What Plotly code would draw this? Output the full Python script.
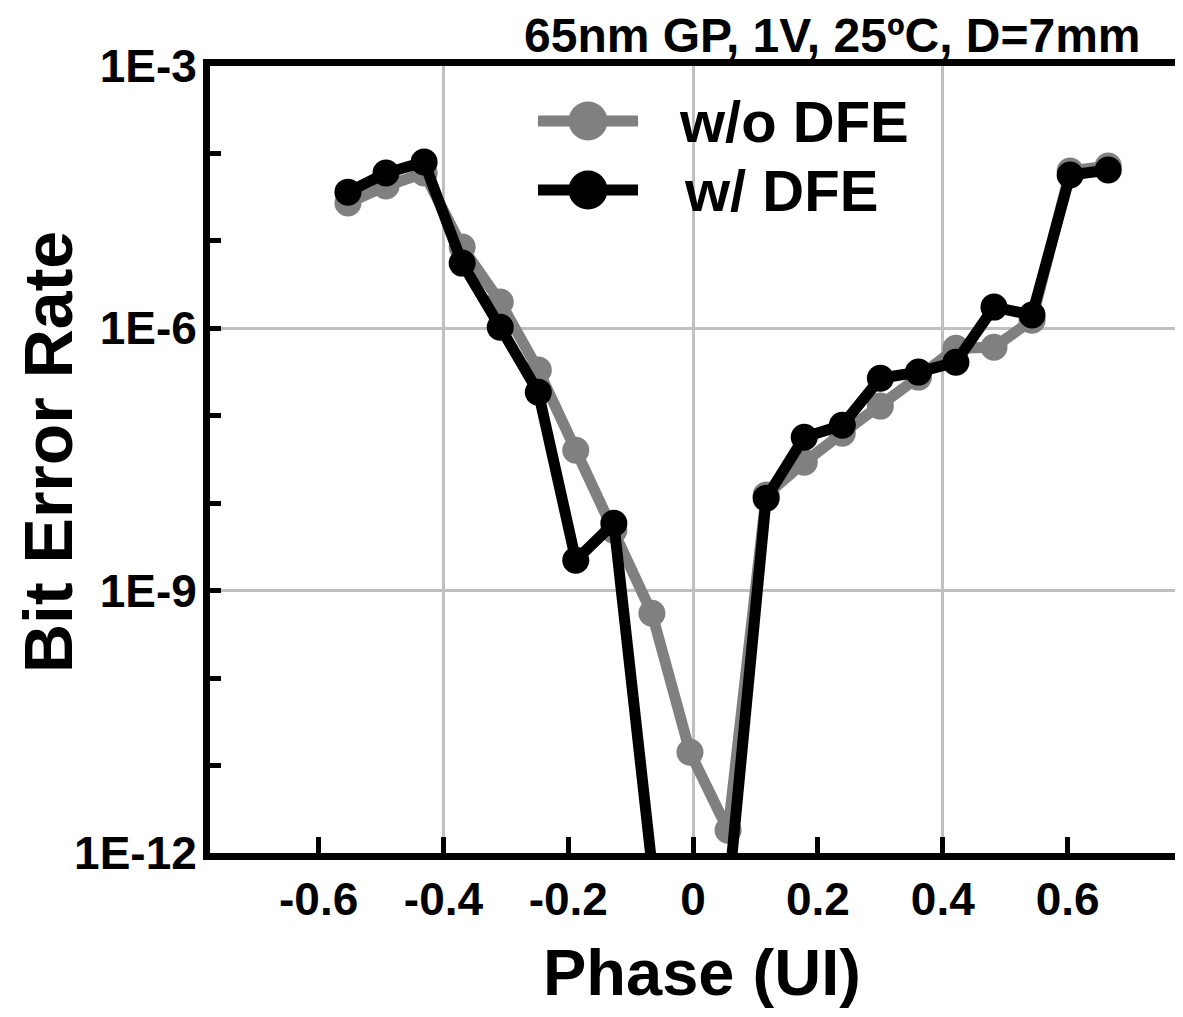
import plotly.graph_objects as go

# ---- data ----
phase = [-0.553, -0.492, -0.431, -0.370, -0.309, -0.248, -0.188, -0.127, -0.066, -0.005,
         0.056, 0.117, 0.178, 0.239, 0.300, 0.361, 0.421, 0.482, 0.543, 0.604, 0.665]

ber_wo_dfe = [2.71e-5, 4.24e-5, 5.97e-5, 8.49e-6, 2.0e-6, 3.33e-7, 4.04e-8, 4.91e-9, 5.51e-10, 1.42e-11,
              1.82e-12, 1.24e-8, 2.94e-8, 6.32e-8, 1.29e-7, 2.77e-7, 5.93e-7, 6.08e-7, 1.24e-6, 6.30e-5, 7.18e-5]

ber_w_dfe = [3.61e-5, 5.97e-5, 7.98e-5, 5.57e-6, 1.03e-6, 1.86e-7, 2.23e-9, 5.90e-9, 7.1e-13, 1.0e-13,
             3.2e-13, 1.14e-8, 5.69e-8, 7.80e-8, 2.69e-7, 3.16e-7, 4.10e-7, 1.75e-6, 1.42e-6, 5.66e-5, 6.46e-5]

x_ticks = [-0.6, -0.4, -0.2, 0, 0.2, 0.4, 0.6]
x_tick_text = ["-0.6", "-0.4", "-0.2", "0", "0.2", "0.4", "0.6"]
x_grid = [-0.4, 0, 0.4]
y_major = [1e-12, 1e-9, 1e-6, 1e-3]
y_major_text = ["1E-12", "1E-9", "1E-6", "1E-3"]
y_minor = [1e-11, 1e-10, 1e-8, 1e-7, 1e-5, 1e-4]

series_names = ["w/o DFE", "w/ DFE"]
series_colors = ["#808080", "#000000"]
title_text = "65nm GP, 1V, 25ºC, D=7mm"

FONT = "Liberation Sans, Arial, Helvetica, sans-serif"
# page body has an 8px margin on every side; size the figure to fit the window without scrolling
W, H = 1167, 1001
L, R, T, B = 202, 0, 58, 156
PW, PH = W - L - R, H - T - B
PAGE_L, PAGE_B = 210, 853   # plot-area left / bottom in window pixels


def px(x):
    return (x - PAGE_L) / PW


def py(y):
    return (PAGE_B - y) / PH


fig = go.Figure()
for name, ys, col in zip(series_names, [ber_wo_dfe, ber_w_dfe], series_colors):
    fig.add_trace(go.Scatter(
        x=phase, y=ys, name=name, mode="lines+markers",
        line=dict(color=col, width=11),
        marker=dict(color=col, size=27),
        showlegend=False,
    ))

# custom legend (long sample lines, as in the reference)
legend_rows = [(121, 677), (190, 682)]
shapes = []
annotations = []
for (ly, tx), name, col in zip(legend_rows, series_names, series_colors):
    shapes.append(dict(type="line", xref="paper", yref="paper",
                       x0=px(538), x1=px(638), y0=py(ly), y1=py(ly),
                       line=dict(color=col, width=11)))
    r = 19.5
    shapes.append(dict(type="circle", xref="paper", yref="paper",
                       x0=px(588 - r), x1=px(588 + r), y0=py(ly - r), y1=py(ly + r),
                       fillcolor=col, line=dict(width=0)))
    annotations.append(dict(text=name, xref="paper", yref="paper", x=px(tx), y=py(ly),
                            xanchor="left", yanchor="middle", showarrow=False,
                            font=dict(family=FONT, size=58, color="black", weight="bold")))

annotations.append(dict(text=title_text, xref="paper", yref="paper", x=px(522), y=py(36),
                        xanchor="left", yanchor="middle", showarrow=False,
                        font=dict(family=FONT, size=48, color="black", weight="bold")))
annotations.append(dict(text="Bit Error Rate", xref="paper", yref="paper", x=px(48), y=py(452),
                        xanchor="center", yanchor="middle", showarrow=False, textangle=-90,
                        font=dict(family=FONT, size=68, color="black", weight="bold")))
annotations.append(dict(text="Phase (UI)", xref="paper", yref="paper", x=px(702), y=py(972),
                        xanchor="center", yanchor="middle", showarrow=False,
                        font=dict(family=FONT, size=65, color="black", weight="bold")))

fig.update_layout(
    width=W, height=H,
    margin=dict(l=L, r=R, t=T, b=B, pad=0),
    paper_bgcolor="white", plot_bgcolor="white",
    shapes=shapes, annotations=annotations,
    showlegend=False,
)
fig.update_xaxes(
    range=[-0.774, 0.772], tickmode="array", tickvals=x_ticks, ticktext=x_tick_text,
    ticks="inside", ticklen=16, tickwidth=5, tickcolor="black",
    showline=True, linewidth=7, linecolor="black", mirror=True,
    showgrid=False, zeroline=False,
    tickfont=dict(family=FONT, size=46, color="black", weight="bold"),
    ticklabelstandoff=0,
    minor=dict(tickmode="array", tickvals=x_grid, showgrid=True, gridcolor="#c0c0c0",
               gridwidth=3, ticks=""),
)
fig.update_yaxes(
    type="log", range=[-12, -3], tickmode="array", tickvals=y_major, ticktext=y_major_text,
    ticks="inside", ticklen=11, tickwidth=5, tickcolor="black",
    showline=True, linewidth=7, linecolor="black", mirror=False,
    showgrid=True, gridcolor="#c0c0c0", gridwidth=3, zeroline=False,
    tickfont=dict(family=FONT, size=46, color="black", weight="bold"),
    ticklabelstandoff=-3,
    minor=dict(tickmode="array", tickvals=y_minor, ticks="inside", ticklen=11, tickwidth=5,
               tickcolor="black", showgrid=False),
)

fig.write_html("out.html")
